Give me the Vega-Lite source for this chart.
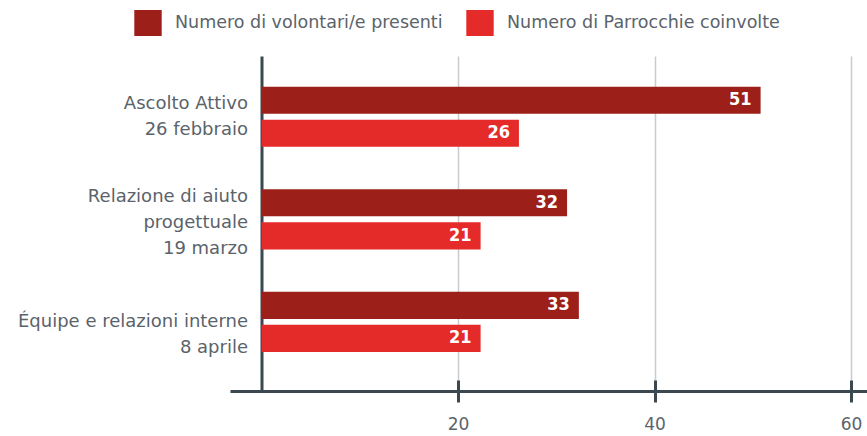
{
  "$schema": "https://vega.github.io/schema/vega-lite/v6.json",
  "autosize": {"type": "none"},
  "padding": {"left": 230, "top": 56, "right": 0, "bottom": 45},
  "width": 637,
  "height": 335,
  "background": "white",
  "config": {"view": {"stroke": null}},
  "data": {
    "values": [
      {"evento": "Ascolto Attivo|26 febbraio", "serie": "Numero di volontari/e presenti", "valore": 51, "asse": 50.8},
      {"evento": "Ascolto Attivo|26 febbraio", "serie": "Numero di Parrocchie coinvolte", "valore": 26, "asse": 26.2},
      {"evento": "Relazione di aiuto|progettuale|19 marzo", "serie": "Numero di volontari/e presenti", "valore": 32, "asse": 31.1},
      {"evento": "Relazione di aiuto|progettuale|19 marzo", "serie": "Numero di Parrocchie coinvolte", "valore": 21, "asse": 22.3},
      {"evento": "Équipe e relazioni interne|8 aprile", "serie": "Numero di volontari/e presenti", "valore": 33, "asse": 32.3},
      {"evento": "Équipe e relazioni interne|8 aprile", "serie": "Numero di Parrocchie coinvolte", "valore": 21, "asse": 22.3}
    ]
  },
  "encoding": {
    "y": {
      "field": "evento", "type": "nominal", "sort": null,
      "scale": {"paddingInner": 0.413, "paddingOuter": 0.34, "align": 0.44},
      "axis": {
        "title": null, "offset": -31.5, "domain": true, "domainColor": "#3b4850", "domainWidth": 3,
        "ticks": false, "labelPadding": 14, "labelExpr": "split(datum.label, '|')",
        "labelFont": "DejaVu Sans", "labelFontSize": 18, "labelColor": "#5b636a",
        "labelLineHeight": 26, "labelLimit": 400, "labelAlign": "right", "labelBaseline": "middle",
        "labelOffset": {
          "condition": [
            {"test": "indexof(datum.value, 'Ascolto') == 0", "value": -13},
            {"test": "indexof(datum.value, 'Relazione') == 0", "value": -22}
          ],
          "value": 0
        }
      }
    },
    "yOffset": {
      "field": "serie", "type": "nominal", "sort": ["Numero di volontari/e presenti", "Numero di Parrocchie coinvolte"],
      "scale": {"paddingInner": 0.18, "paddingOuter": 0}
    }
  },
  "layer": [
    {
      "mark": {"type": "bar"},
      "encoding": {
        "x": {
          "field": "asse", "type": "quantitative",
          "scale": {"domain": [-3.21, 61.63], "nice": false, "zero": false},
          "axis": {
            "title": null, "orient": "bottom", "values": [20, 40, 60],
            "domain": true, "domainColor": "#3b4850", "domainWidth": 3,
            "grid": true, "gridColor": "#c6cccf", "gridWidth": 1.5,
            "ticks": true, "tickSize": 11, "tickWidth": 3, "tickColor": "#3b4850",
            "labelFont": "DejaVu Sans", "labelFontSize": 17, "labelColor": "#5b636a", "labelPadding": 14
          }
        },
        "color": {
          "field": "serie", "type": "nominal",
          "scale": {"domain": ["Numero di volontari/e presenti", "Numero di Parrocchie coinvolte"], "range": ["#9c2019", "#e52b29"]},
          "legend": {
            "title": null, "orient": "none", "legendX": -95, "legendY": -46, "direction": "horizontal",
            "symbolType": "M-1.054,-1H1.054V1H-1.054Z", "symbolSize": 676, "symbolStrokeWidth": 0, "symbolOpacity": 1,
            "labelFont": "DejaVu Sans", "labelFontSize": 17.5, "labelColor": "#5b636a", "labelOffset": 14,
            "labelLimit": 400, "columnPadding": 23
          }
        }
      }
    },
    {
      "mark": {"type": "text", "align": "right", "baseline": "middle", "dx": -9, "color": "white", "fontWeight": "bold", "font": "DejaVu Sans Condensed, DejaVu Sans", "fontSize": 18},
      "encoding": {
        "x": {
          "field": "asse", "type": "quantitative",
          "axis": {
            "title": null, "orient": "bottom", "offset": -11, "values": [20, 40, 60],
            "domain": false, "grid": false, "labels": false,
            "ticks": true, "tickSize": 11, "tickWidth": 3, "tickColor": "#3b4850"
          }
        },
        "text": {"field": "valore", "type": "quantitative"}
      }
    }
  ],
  "resolve": {"axis": {"x": "independent"}}
}
